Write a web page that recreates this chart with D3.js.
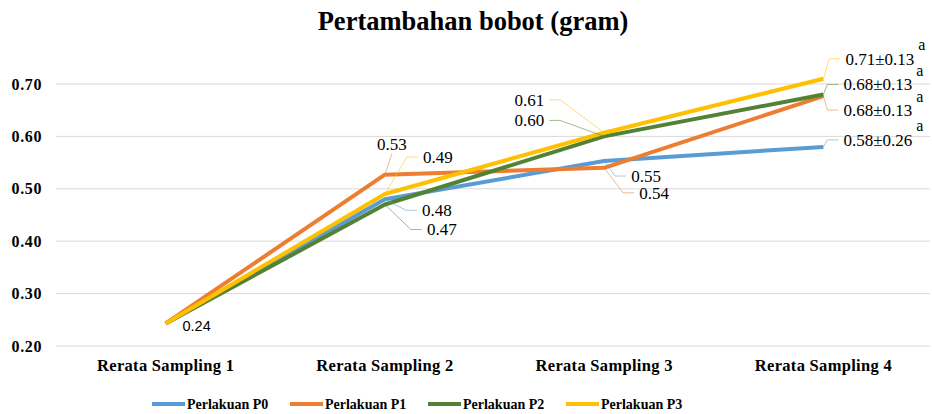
<!DOCTYPE html>
<html>
<head>
<meta charset="utf-8">
<script src="https://cdn.jsdelivr.net/npm/d3@7/dist/d3.min.js"></script>
<style>
    body { margin: 0; background: #fff; }
    svg text { fill: #000; }
</style>
</head>
<body>
<div id="chart"></div>
<script>
// data
const categories = ["Rerata Sampling 1", "Rerata Sampling 2", "Rerata Sampling 3", "Rerata Sampling 4"];
const seriesNames = ["Perlakuan P0", "Perlakuan P1", "Perlakuan P2", "Perlakuan P3"];
const p0 = [0.243, 0.480, 0.553, 0.580];
const p1 = [0.243, 0.527, 0.540, 0.677];
const p2 = [0.243, 0.470, 0.600, 0.680];
const p3 = [0.243, 0.490, 0.607, 0.710];
const sdLast = [0.26, 0.13, 0.13, 0.13];
const letterLast = ["a", "a", "a", "a"];
const yTicks = [0.20, 0.30, 0.40, 0.50, 0.60, 0.70];

const colors = ["#5B9BD5", "#ED7D31", "#548235", "#FFC000"];
const font = '"Times New Roman", "Liberation Serif", "Liberation Sans", serif';

// label layout: [series, category, dx, dy, anchor]
const labelLayout = [
    [0, 1, 37, 11, "start"],
    [1, 1, 7, -31, "middle"],
    [2, 1, 42, 25, "start"],
    [3, 1, 38, -37, "start"],
    [0, 2, 27, 15, "start"],
    [1, 2, 35, 25, "start"],
    [2, 2, -60, -16, "end"],
    [3, 2, -60, -33, "end"],
    [0, 3, 20, -7, "start"],
    [1, 3, 20, 14, "start"],
    [2, 3, 20, -10, "start"],
    [3, 3, 22, -20, "start"]
];

const W = 932, H = 414;

const svg = d3.select("#chart").append("svg")
    .attr("width", W)
    .attr("height", H);

const x = d3.scaleBand().domain(categories).range([56, 933]);
const y = d3.scaleLinear().domain([0.2, 0.7]).range([346, 84]);
const cx = d => x(d) + x.bandwidth() / 2;

// title
svg.append("text")
    .attr("x", 473).attr("y", 30)
    .attr("text-anchor", "middle")
    .style("font-family", font)
    .style("font-size", "26.5px").style("font-weight", "bold")
    .text("Pertambahan bobot (gram)");

// gridlines
svg.append("g").selectAll("line").data(yTicks).join("line")
    .attr("x1", 56).attr("x2", 930)
    .attr("y1", d => y(d)).attr("y2", d => y(d))
    .attr("stroke", "#d9d9d9").attr("stroke-width", 1);

// y axis
const yAxis = svg.append("g")
    .attr("transform", "translate(42,0)")
    .call(d3.axisLeft(y).tickValues(yTicks).tickFormat(d3.format(".2f")).tickSize(0).tickPadding(0));
yAxis.select(".domain").remove();
yAxis.attr("font-family", null);
yAxis.selectAll("text")
    .style("font-family", font)
    .style("font-size", "16px").style("font-weight", "bold")
    .style("letter-spacing", "0.6px");

// x axis
const xAxis = svg.append("g")
    .attr("transform", "translate(0,346)")
    .call(d3.axisBottom(x).tickSize(0).tickPadding(13));
xAxis.select(".domain").remove();
xAxis.attr("font-family", null);
xAxis.selectAll("text")
    .style("font-family", font)
    .style("font-size", "16.5px").style("font-weight", "bold")
    .style("letter-spacing", "0.3px");

// lines
const allSeries = [p0, p1, p2, p3];
const line = d3.line()
    .x((d, i) => cx(categories[i]))
    .y(d => y(d));

svg.append("g").selectAll("path").data(allSeries).join("path")
    .attr("d", line)
    .attr("fill", "none")
    .attr("stroke", (d, i) => colors[i])
    .attr("stroke-width", 4)
    .attr("stroke-linejoin", "round")
    .attr("stroke-linecap", "butt");

// data labels
const lab = svg.append("g");
labelLayout.forEach(function(l) {
    let s = l[0], c = l[1], dx = l[2], dy = l[3], anchor = l[4];
    let v = allSeries[s][c];
    let px = cx(categories[c]), py = y(v);
    let tx = px + dx, ty = py + dy;
    let txt = v.toFixed(2);
    if (c === 3) txt += "±" + sdLast[s].toFixed(2);

    let pts;
    if (anchor === "start") {
        pts = [[px, py], [tx - 16, ty], [tx - 5, ty]];
    } else if (anchor === "end") {
        pts = [[px, py], [tx + 16, ty], [tx + 5, ty]];
    } else {
        pts = [[px, py], [tx, ty + 10]];
    }
    lab.append("path")
        .attr("d", d3.line()(pts))
        .attr("fill", "none")
        .attr("stroke", colors[s])
        .attr("stroke-opacity", 0.55)
        .attr("stroke-width", 1);

    let t = lab.append("text")
        .attr("x", tx).attr("y", ty)
        .attr("dy", "0.35em")
        .attr("text-anchor", anchor)
        .style("font-family", font)
        .style("font-size", "17px")
        .text(txt);

    if (c === 3) {
        let w = t.node().getComputedTextLength();
        lab.append("text")
            .attr("x", tx + w + 4).attr("y", ty - 14)
            .attr("dy", "0.35em")
            .style("font-family", font)
            .style("font-size", "16px")
            .text(letterLast[s]);
    }
});

// first point label
svg.append("text")
    .attr("x", cx(categories[0]) + 31).attr("y", y(p3[0]) + 2)
    .attr("dy", "0.35em")
    .attr("text-anchor", "middle")
    .style("font-family", "Liberation Sans, Arial, sans-serif")
    .style("font-size", "14.5px")
    .text(p3[0].toFixed(2));

// legend
const legend = svg.append("g").attr("transform", "translate(152,404)");
const item = legend.selectAll("g").data(seriesNames).join("g")
    .attr("transform", (d, i) => "translate(" + (i * 138) + ",0)");
item.append("line")
    .attr("x1", 0).attr("x2", 33)
    .attr("stroke", (d, i) => colors[i])
    .attr("stroke-width", 4);
item.append("text")
    .attr("x", 35).attr("dy", "0.35em")
    .style("font-family", font)
    .style("font-size", "14px").style("font-weight", "bold")
    .text(d => d);
</script>
</body>
</html>
